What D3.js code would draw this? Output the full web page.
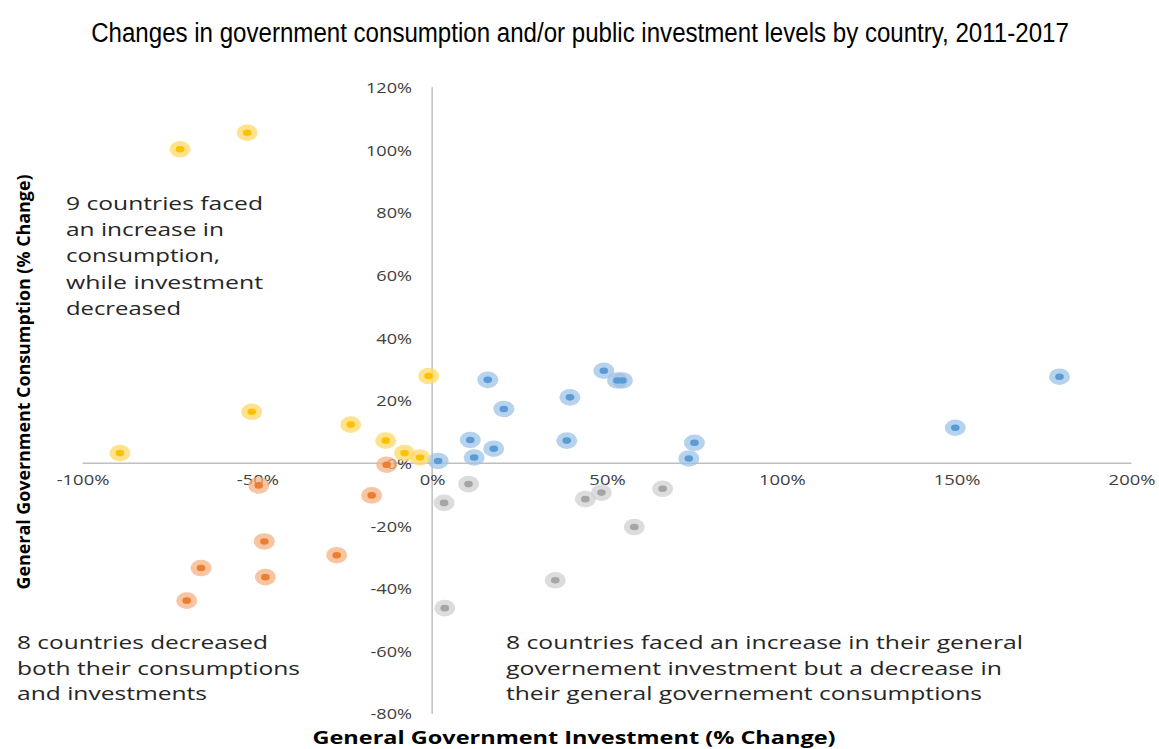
<!DOCTYPE html>
<html>
<head>
<meta charset="utf-8">
<script src="https://cdn.jsdelivr.net/npm/d3@7"></script>
<style>
  html, body { margin: 0; padding: 0; background: #fff; }
  svg { display: block; }
</style>
</head>
<body>
<svg id="chart" width="1159" height="749"></svg>
<script>
// ---- Data (investment % change, consumption % change) ----
const increaseBoth_x = [1.7, 10.9, 12.0, 15.9, 17.6, 20.5, 38.5, 39.4, 49.1, 53.0, 54.4, 73.4, 75.0, 149.6, 179.4];
const increaseBoth_y = [0.7, 7.4, 1.8, 26.6, 4.6, 17.3, 7.2, 21.0, 29.5, 26.4, 26.4, 1.5, 6.5, 11.3, 27.6];

const consUpInvDown_x = [-89.3, -51.6, -23.3, -13.3, -7.9, -3.5, -1.0, -72.1, -52.9];
const consUpInvDown_y = [3.2, 16.4, 12.3, 7.2, 3.2, 1.8, 27.8, 100.2, 105.5];

const decreaseBoth_x = [-13.0, -49.6, -17.3, -48.0, -27.3, -66.1, -47.7, -70.2];
const decreaseBoth_y = [-0.5, -7.1, -10.3, -25.0, -29.4, -33.5, -36.4, -43.9];

const invUpConsDown_x = [10.4, 3.4, 43.8, 48.4, 65.9, 57.8, 35.2, 3.6];
const invUpConsDown_y = [-6.7, -12.7, -11.5, -9.4, -8.2, -20.4, -37.4, -46.3];

const xTickValues = [-100, -50, 0, 50, 100, 150, 200];
const yTickValues = [-80, -60, -40, -20, 0, 20, 40, 60, 80, 100, 120];

const titleText = "Changes in government consumption and/or public investment levels by country, 2011-2017";
const xAxisTitle = "General Government Investment (% Change)";
const yAxisTitle = "General Government Consumption (% Change)";
const noteTopLeft = ["9 countries faced", "an increase in", "consumption,", "while investment", "decreased"];
const noteBottomLeft = ["8 countries decreased", "both their consumptions", "and investments"];
const noteBottomRight = ["8 countries faced an increase in their general", "governement investment but a decrease in", "their general governement consumptions"];

// ---- Series assembly ----
const zip = (xs, ys) => xs.map((v, i) => ({ x: v, y: ys[i] }));
const series = [
  { name: "increaseBoth", color: "#5B9BD5", halo: "#9DC3E6", points: zip(increaseBoth_x, increaseBoth_y) },
  { name: "consUpInvDown", color: "#FFC000", halo: "#FFD966", points: zip(consUpInvDown_x, consUpInvDown_y) },
  { name: "decreaseBoth", color: "#ED7D31", halo: "#F4B183", points: zip(decreaseBoth_x, decreaseBoth_y) },
  { name: "invUpConsDown", color: "#A5A5A5", halo: "#D0D0D0", points: zip(invUpConsDown_x, invUpConsDown_y) }
];

const svg = d3.select("#chart");

const x = d3.scaleLinear().domain([-100, 200]).range([82.5, 1131.5]);
const y = d3.scaleLinear().domain([-80, 120]).range([713.7, 87.3]);

function stretch(sel, factor) {
  sel.each(function () {
    const w = this.getComputedTextLength();
    d3.select(this).attr("textLength", w * factor).attr("lengthAdjust", "spacingAndGlyphs");
  });
}
function fitWidth(sel, width) {
  sel.attr("textLength", width).attr("lengthAdjust", "spacingAndGlyphs");
}

// ---- Title (condensed horizontally with a transform) ----
const titleG = svg.append("g");
const titleT = titleG.append("text")
  .attr("x", 0).attr("y", 0)
  .attr("text-anchor", "middle")
  .attr("font-family", "'Liberation Sans Narrow', 'Liberation Sans', Arial, sans-serif")
  .attr("font-size", 27)
  .attr("fill", "#000")
  .text(titleText);
const tw = titleT.node().getComputedTextLength();
titleG.attr("transform", `translate(580,42) scale(${978 / tw},1)`);

// ---- Axes lines ----
const gridColor = "#BFBFBF";
svg.append("line")
  .attr("x1", x(0)).attr("x2", x(0))
  .attr("y1", y(120)).attr("y2", y(-80))
  .attr("stroke", gridColor).attr("stroke-width", 1.5);
svg.append("line")
  .attr("x1", x(-100)).attr("x2", x(200))
  .attr("y1", y(0)).attr("y2", y(0))
  .attr("stroke", gridColor).attr("stroke-width", 1.5);

// ---- Tick labels via d3 axes ----
const yAxis = d3.axisLeft(y).tickValues(yTickValues).tickFormat(d => d + "%").tickSize(0).tickPadding(0);
const yg = svg.append("g").attr("transform", "translate(412,0)").call(yAxis);
yg.select(".domain").remove();
yg.selectAll("text")
  .attr("font-family", "'Open Sans', sans-serif")
  .attr("font-size", 14.5)
  .attr("fill", "#404040")
  .attr("dy", "0.36em")
  .call(stretch, 1.25);

const xAxis = d3.axisBottom(x).tickValues(xTickValues).tickFormat(d => d + "%").tickSize(0).tickPadding(0);
const xg = svg.append("g").attr("transform", "translate(0,480)").call(xAxis);
xg.select(".domain").remove();
xg.selectAll("text")
  .attr("font-family", "'Open Sans', sans-serif")
  .attr("font-size", 14.5)
  .attr("fill", "#404040")
  .attr("dy", "0.36em")
  .call(stretch, 1.27);

// ---- Points ----
const pg = svg.append("g");
series.forEach(s => {
  const g = pg.append("g").attr("class", s.name);
  g.selectAll("ellipse.halo").data(s.points).join("ellipse")
    .attr("class", "halo")
    .attr("cx", d => x(d.x)).attr("cy", d => y(d.y))
    .attr("rx", 10.5).attr("ry", 8.3)
    .attr("fill", s.halo).attr("fill-opacity", 0.75);
  g.selectAll("ellipse.core").data(s.points).join("ellipse")
    .attr("class", "core")
    .attr("cx", d => x(d.x)).attr("cy", d => y(d.y))
    .attr("rx", 4.3).attr("ry", 3.3)
    .attr("fill", s.color);
});

// ---- Axis titles ----
svg.append("text")
  .attr("x", 574).attr("y", 744)
  .attr("text-anchor", "middle")
  .attr("font-family", "'Open Sans', sans-serif")
  .attr("font-weight", "bold")
  .attr("font-size", 18)
  .attr("fill", "#000")
  .text(xAxisTitle)
  .call(fitWidth, 523);

svg.append("text")
  .attr("transform", "translate(30,382) rotate(-90)")
  .attr("text-anchor", "middle")
  .attr("font-family", "'Open Sans', sans-serif")
  .attr("font-weight", "bold")
  .attr("font-size", 18)
  .attr("fill", "#000")
  .text(yAxisTitle)
  .call(fitWidth, 415);

// ---- Annotations ----
const tlWidths = [197, 158, 154, 197, 115];
svg.append("g").selectAll("text").data(noteTopLeft).join("text")
  .attr("x", 66).attr("y", (d, i) => 210 + i * 26.2)
  .attr("font-family", "'Open Sans', sans-serif")
  .attr("font-size", 19)
  .attr("fill", "#262626")
  .text(d => d)
  .each(function (d, i) { d3.select(this).call(fitWidth, tlWidths[i]); });

const blWidths = [251, 283, 190];
svg.append("g").selectAll("text").data(noteBottomLeft).join("text")
  .attr("x", 17).attr("y", (d, i) => 649 + i * 25.5)
  .attr("font-family", "'Open Sans', sans-serif")
  .attr("font-size", 19)
  .attr("fill", "#262626")
  .text(d => d)
  .each(function (d, i) { d3.select(this).call(fitWidth, blWidths[i]); });

const brWidths = [517, 496, 476];
svg.append("g").selectAll("text").data(noteBottomRight).join("text")
  .attr("x", 506).attr("y", (d, i) => 649 + i * 25.5)
  .attr("font-family", "'Open Sans', sans-serif")
  .attr("font-size", 19)
  .attr("fill", "#262626")
  .text(d => d)
  .each(function (d, i) { d3.select(this).call(fitWidth, brWidths[i]); });
</script>
</body>
</html>
